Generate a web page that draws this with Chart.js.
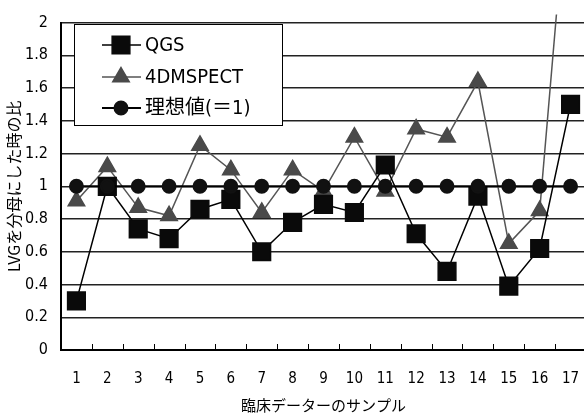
<!DOCTYPE html>
<html>
<head>
<meta charset="utf-8">
<script src="https://cdn.jsdelivr.net/npm/chart.js@4.4.1/dist/chart.umd.min.js"></script>
<style>
  html, body { margin: 0; padding: 0; overflow: hidden; background: #fff; }
</style>
</head>
<body>
<canvas id="chartRatio" width="600" height="417"></canvas>
<script>
// données
const samples = ['1', '2', '3', '4', '5', '6', '7', '8', '9', '10', '11', '12', '13', '14', '15', '16', '17'];
const qgs = [0.30, 1.00, 0.74, 0.68, 0.86, 0.92, 0.60, 0.78, 0.89, 0.84, 1.13, 0.71, 0.48, 0.94, 0.39, 0.62, 1.50];
const spect4d = [0.91, 1.12, 0.87, 0.82, 1.25, 1.10, 0.84, 1.10, 0.97, 1.30, 0.97, 1.35, 1.30, 1.64, 0.65, 0.85, 3.06];
const ideal = [1, 1, 1, 1, 1, 1, 1, 1, 1, 1, 1, 1, 1, 1, 1, 1, 1];
const yTickLabels = ['0', '0.2', '0.4', '0.6', '0.8', '1', '1.2', '1.4', '1.6', '1.8', '2'];
const seriesNames = ['QGS', '4DMSPECT', '理想値(＝1)'];

const numFont = "'Liberation Sans Narrow', 'DejaVu Sans Condensed', 'Noto Sans CJK JP', sans-serif";
const jpFont = "'Noto Sans CJK JP', sans-serif";

// ticks intérieurs de l'axe X + légende dans la zone du graphique
const extras = {
  id: 'extras',
  afterDraw(chart) {
    const ctx = chart.ctx;
    const x = chart.scales.x;
    const area = chart.chartArea;
    ctx.save();
    ctx.strokeStyle = '#000';
    ctx.lineWidth = 1;
    for (let i = 0; i < samples.length - 1; i++) {
      const px = Math.round((x.getPixelForTick(i) + x.getPixelForTick(i + 1)) / 2) + 0.5;
      ctx.beginPath();
      ctx.moveTo(px, area.bottom);
      ctx.lineTo(px, area.bottom - 6);
      ctx.stroke();
    }

    // légende
    const box = { left: 74.5, top: 24.5, w: 208, h: 101 };
    ctx.fillStyle = '#fff';
    ctx.fillRect(box.left, box.top, box.w, box.h);
    ctx.strokeRect(box.left, box.top, box.w, box.h);

    const rows = [45, 77, 108];
    [0, 1, 2].forEach((k) => {
      const ds = chart.data.datasets.find(d => d.label === seriesNames[k]);
      const y = rows[k];
      ctx.strokeStyle = ds.borderColor;
      ctx.lineWidth = ds.borderWidth;
      ctx.beginPath();
      ctx.moveTo(102, y);
      ctx.lineTo(141, y);
      ctx.stroke();
      ctx.fillStyle = ds.pointBackgroundColor;
      ctx.strokeStyle = ds.pointBorderColor;
      Chart.helpers.drawPoint(ctx, {
        pointStyle: ds.pointStyle,
        radius: ds.pointRadius,
        rotation: 0,
        borderWidth: 1
      }, 121, y);
      ctx.fillStyle = '#000';
      ctx.font = '20px ' + numFont;
      ctx.textBaseline = 'middle';
      ctx.textAlign = 'left';
      ctx.fillText(seriesNames[k], 145, y + 1);
    });
    ctx.restore();
  }
};

const ctxRatio = document.getElementById('chartRatio').getContext('2d');
const chartRatio = new Chart(ctxRatio, {
  type: 'line',
  data: {
    labels: samples,
    datasets: [
      {
        label: seriesNames[2],
        data: ideal,
        order: 0,
        borderColor: '#000',
        borderWidth: 2,
        pointStyle: 'circle',
        pointRadius: 6.5,
        pointBackgroundColor: '#111',
        pointBorderColor: '#111',
        tension: 0
      },
      {
        label: seriesNames[0],
        data: qgs,
        order: 1,
        borderColor: '#000',
        borderWidth: 1.5,
        pointStyle: 'rect',
        pointRadius: 12.5,
        pointBackgroundColor: '#0a0a0a',
        pointBorderColor: '#0a0a0a',
        tension: 0
      },
      {
        label: seriesNames[1],
        data: spect4d,
        order: 2,
        borderColor: '#555',
        borderWidth: 1.5,
        pointStyle: 'triangle',
        pointRadius: 9.5,
        pointBackgroundColor: '#4a4a4a',
        pointBorderColor: '#4a4a4a',
        tension: 0,
        clip: { left: 10, top: 8, right: 10, bottom: 10 }
      }
    ]
  },
  options: {
    responsive: false,
    animation: false,
    layout: { padding: { left: 0, top: 18, right: 11, bottom: 0 } },
    plugins: {
      legend: { display: false },
      tooltip: { enabled: false }
    },
    scales: {
      x: {
        type: 'category',
        offset: true,
        grid: { display: false },
        border: { display: true, color: '#000', width: 2 },
        ticks: {
          color: '#000',
          font: { family: numFont, size: 15 },
          padding: 12,
          maxRotation: 0,
          autoSkip: false
        },
        title: {
          display: true,
          text: '臨床データーのサンプル',
          color: '#000',
          font: { family: jpFont, size: 15 },
          padding: { top: 0, bottom: 3 }
        },
        afterFit(scale) { scale.height = 67; }
      },
      y: {
        min: 0,
        max: 2,
        grid: { color: '#222', lineWidth: 1.5, drawTicks: false },
        border: { display: true, color: '#000', width: 2 },
        ticks: {
          stepSize: 0.2,
          color: '#000',
          font: { family: numFont, size: 16 },
          padding: 13,
          callback: (v, i) => yTickLabels[i]
        },
        title: {
          display: true,
          text: 'LVGを分母にした時の比',
          color: '#000',
          font: { family: jpFont, size: 16 },
          padding: { top: 4, bottom: 0 }
        },
        afterFit(scale) { scale.width = 61; }
      }
    }
  },
  plugins: [extras]
});
</script>
</body>
</html>
